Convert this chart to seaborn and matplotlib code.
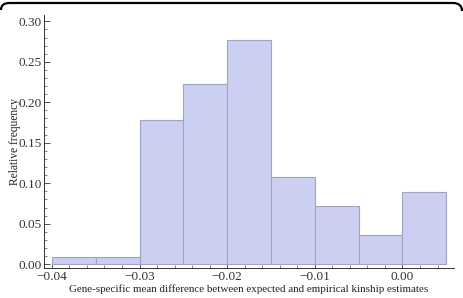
import numpy as np
import matplotlib
matplotlib.use("Agg")
import matplotlib.pyplot as plt
import seaborn as sns
from matplotlib.path import Path
from matplotlib.patches import PathPatch
from matplotlib.ticker import MultipleLocator, FormatStrFormatter

# Data: histogram bins (difference) and relative frequencies
bin_edges = [-0.040, -0.035, -0.030, -0.025, -0.020, -0.015, -0.010, -0.005, 0.000, 0.005]
rel_freq = [0.0089, 0.0089, 0.1786, 0.2232, 0.2768, 0.1071, 0.0714, 0.0357, 0.0893]
bin_centers = [(a + b) / 2 for a, b in zip(bin_edges[:-1], bin_edges[1:])]
x_tick_vals = [-0.04, -0.03, -0.02, -0.01, 0.0]
x_tick_labels = ['\u22120.04', '\u22120.03', '\u22120.02', '\u22120.01', '0.00']

sns.set_style("ticks")
plt.rcParams['font.family'] = ['Liberation Serif', 'DejaVu Serif']

W, H = 463, 298
fig = plt.figure(figsize=(W / 100, H / 100), dpi=100)
ax = fig.add_axes([0.095, 0.10, 0.886, 0.85])

sns.histplot(x=bin_centers, weights=rel_freq, bins=bin_edges, ax=ax,
             color="#cbcff2", edgecolor="#a0a3c6", linewidth=0.8, alpha=1.0)

ax.set_xlim(-0.0409, 0.0059)
ax.set_ylim(-0.005, 0.308)
ax.xaxis.set_minor_locator(MultipleLocator(0.002))
ax.yaxis.set_major_locator(MultipleLocator(0.05))
ax.yaxis.set_minor_locator(MultipleLocator(0.01))
ax.yaxis.set_major_formatter(FormatStrFormatter('%.2f'))
ax.set_xticks(x_tick_vals)
ax.set_xticklabels(x_tick_labels)

ax.tick_params(axis='both', which='major', direction='in', length=4, width=0.6,
               labelsize=9.5, colors='#333333')
ax.tick_params(axis='y', which='major', pad=1.5)
ax.tick_params(axis='x', which='major', pad=2)
ax.tick_params(axis='both', which='minor', direction='in', length=2, width=0.5, colors='#555555')
for s in ['top', 'right']:
    ax.spines[s].set_visible(False)
for s in ['left', 'bottom']:
    ax.spines[s].set_color('#333333')
    ax.spines[s].set_linewidth(0.7)

ax.set_xlabel("Gene-specific mean difference between expected and empirical kinship estimates",
              fontsize=7.9, color='#222222', labelpad=1)
ax.set_ylabel("Relative frequency", fontsize=8.3, color='#222222')
ax.yaxis.set_label_coords(-0.056, 0.5)

# Rounded top frame (only the top edge with short curved corners)
def fx(px):
    return px / W
def fy(py):
    return 1 - py / H
verts = [(fx(1), fy(10)), (fx(1), fy(5)), (fx(4), fy(3)), (fx(10), fy(3)),
         (fx(453), fy(3)), (fx(459), fy(3)), (fx(462), fy(6)), (fx(462), fy(11))]
codes = [Path.MOVETO, Path.CURVE4, Path.CURVE4, Path.CURVE4,
         Path.LINETO, Path.CURVE4, Path.CURVE4, Path.CURVE4]
frame = PathPatch(Path(verts, codes), transform=fig.transFigure, fill=False,
                  edgecolor='black', linewidth=1.6)
fig.patches.append(frame)

fig.savefig("out.png", dpi=100)
